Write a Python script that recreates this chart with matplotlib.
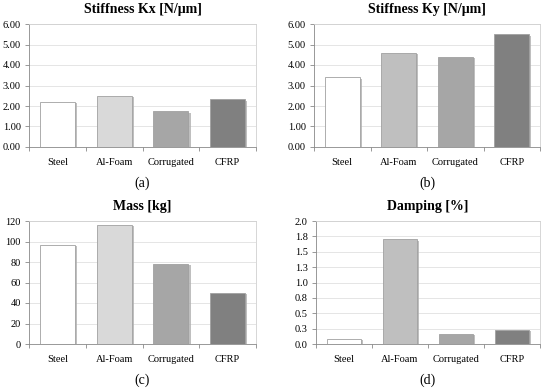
import matplotlib
matplotlib.use('Agg')
import matplotlib.pyplot as plt
import matplotlib.patheffects as pe
import numpy as np

plt.rcParams['font.family'] = ['Liberation Serif', 'DejaVu Serif']

# Data
materials = ['Steel', 'Al-Foam', 'Corrugated', 'CFRP']
stiffness_kx = [2.2, 2.5, 1.75, 2.32]
stiffness_ky = [3.4, 4.6, 4.4, 5.5]
mass = [97, 116, 78, 50]
damping = [0.08, 1.7, 0.17, 0.23]

titles = ['Stiffness Kx [N/\u03bcm]', 'Stiffness Ky [N/\u03bcm]', 'Mass [kg]', 'Damping [%]']
panel_labels = ['(a)', '(b)', '(c)', '(d)']

kx_ticks = [0, 1, 2, 3, 4, 5, 6]
kx_labels = ['0.00', '1.00', '2.00', '3.00', '4.00', '5.00', '6.00']
mass_ticks = [0, 20, 40, 60, 80, 100, 120]
mass_labels = ['0', '20', '40', '60', '80', '100', '120']
damp_ticks = [0, 0.25, 0.5, 0.75, 1.0, 1.25, 1.5, 1.75, 2.0]
damp_labels = ['0.0', '0.3', '0.5', '0.8', '1.0', '1.3', '1.5', '1.8', '2.0']

colors_light = ['white', '#d9d9d9', '#a6a6a6', '#808080']
colors_dark = ['white', '#bfbfbf', '#a6a6a6', '#808080']

fig = plt.figure(figsize=(5.5, 3.91), dpi=100)
W, H = 550, 391

# axes boxes in pixels: left, top, right, bottom
boxes = [(29, 24, 256, 147), (314, 24, 540, 147),
         (29, 221, 256, 344), (316, 221, 540, 344)]
datasets = [stiffness_kx, stiffness_ky, mass, damping]
colorsets = [colors_light, colors_dark, colors_light, colors_dark]
ticksets = [(kx_ticks, kx_labels), (kx_ticks, kx_labels),
            (mass_ticks, mass_labels), (damp_ticks, damp_labels)]

x = np.arange(len(materials))
for i in range(4):
    l, t, r, b = boxes[i]
    ax = fig.add_axes([l / W, 1 - b / H, (r - l) / W, (b - t) / H])
    ticks, labels = ticksets[i]
    ax.bar(x, datasets[i], width=0.62, color=colorsets[i], edgecolor='#a0a0a0',
           linewidth=0.6, zorder=3,
           path_effects=[pe.SimplePatchShadow(offset=(1.5, -1), shadow_rgbFace='#b0b0b0', alpha=0.8),
                         pe.Normal()])
    ax.set_xlim(-0.5, 3.5)
    ax.set_ylim(ticks[0], ticks[-1])
    ax.set_yticks(ticks)
    ax.set_yticklabels(labels, fontsize=7.5)
    ax.set_xticks(x)
    ax.set_xticklabels(materials, fontsize=7.5)
    ax.tick_params(axis='x', length=0, pad=8)
    ax.tick_params(axis='y', length=3, width=0.6, color='#888888', pad=3)
    ax.grid(axis='y', color='#e0e0e0', linewidth=0.6, zorder=0)
    for s in ['top', 'right']:
        ax.spines[s].set_color('#d0d0d0')
        ax.spines[s].set_linewidth(0.6)
    for s in ['left', 'bottom']:
        ax.spines[s].set_color('#888888')
        ax.spines[s].set_linewidth(0.6)
    # tick marks between categories on x axis
    ax.set_xticks(np.arange(-0.5, 4.0, 1.0), minor=True)
    ax.tick_params(axis='x', which='minor', length=3, width=0.6, color='#888888')
    ax.set_title(titles[i], fontsize=10, fontweight='bold', pad=8)
    cx = (l + r) / 2 / W
    ly = 1 - (b + 36) / H
    fig.text(cx, ly, panel_labels[i], ha='center', va='center', fontsize=10)

fig.savefig('out.png', dpi=100, facecolor='white')
